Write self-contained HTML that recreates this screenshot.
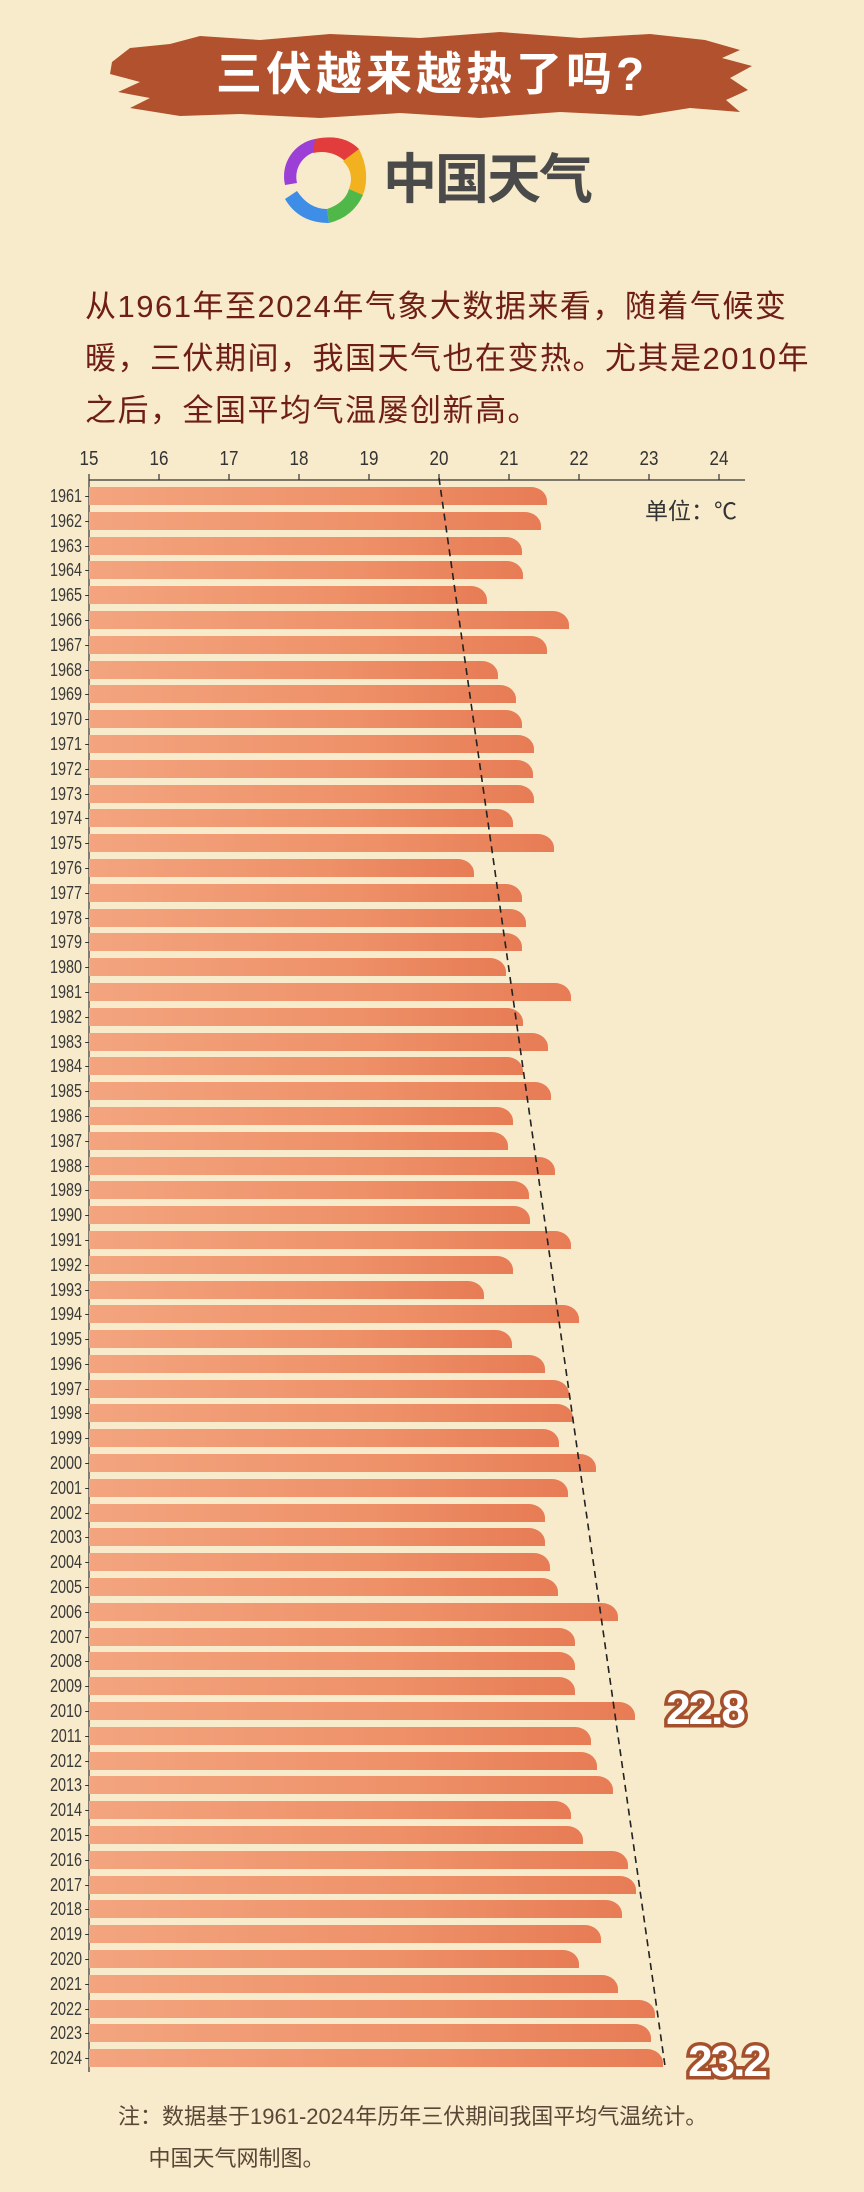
<!DOCTYPE html>
<html><head><meta charset="utf-8">
<style>
*{margin:0;padding:0;box-sizing:border-box}
body{width:864px;height:2192px;background:#f8ebcb;position:relative;overflow:hidden;font-family:"Liberation Sans","Noto Sans CJK SC",sans-serif}
.abs{position:absolute}
#title{left:0;width:864px;top:44px;text-align:center;color:#fff;font-size:46px;font-weight:bold;letter-spacing:4px;line-height:60px}
#logo{left:383px;top:148px;font-size:54px;color:#4a4a4a;font-weight:bold;letter-spacing:-2px;line-height:64px}
#para{left:85px;top:281px;color:#6e1e16;font-size:31px;line-height:52px;letter-spacing:1.5px;white-space:nowrap}
.tk{position:absolute;top:448px;font-size:20px;color:#333;transform:translateX(-50%) scaleX(.85)}
#rows{position:absolute;left:0;top:487px;width:864px}
.r{height:24.8px;position:relative}
.r span{position:absolute;right:782px;top:-1px;font-size:18px;line-height:20px;color:#3a3a3a;transform:scaleX(.8);transform-origin:right}
.r span:after{content:"";position:absolute;right:-9px;top:10px;width:5px;height:1px;background:#333}
.r i{position:absolute;left:89px;top:0;height:18px;border-top-right-radius:16px 14px;background:linear-gradient(90deg,#f3a57f,#ee9169 60%,#e77c55)}
#unit{left:645px;top:492px;font-size:23px;color:#333}
#note{left:118px;top:2096px;font-size:22px;color:#5a4636;line-height:42px}
</style></head><body>
<svg class="abs" style="left:0;top:0" width="864" height="2192">
<path d="M112 62 L130 48 L170 44 L200 36 L260 40 L330 34 L420 38 L500 32 L580 38 L650 34 L705 40 L740 50 L722 58 L752 66 L730 78 L748 90 L726 100 L740 112 L690 108 L640 116 L560 112 L480 118 L400 113 L320 118 L240 114 L180 116 L130 108 L150 98 L118 92 L140 82 L110 74 Z" fill="#b1512d"/>
<g transform="translate(323,179)">
<path d="M-8 -40 A38 38 0 0 0 -38 6 L-26 4 A26 26 0 0 1 -2 -28 Z" fill="#9b3fd6"/>
<path d="M-8 -40 Q20 -46 36 -30 L22 -18 Q8 -30 -10 -26 Z" fill="#e23c3c"/>
<path d="M36 -30 Q48 -6 40 16 L26 10 Q32 -6 20 -18 Z" fill="#f2b11e"/>
<path d="M40 16 Q30 38 6 44 L4 30 Q22 24 26 10 Z" fill="#4fb848"/>
<path d="M6 44 Q-24 44 -38 20 L-26 12 Q-14 30 4 30 Z" fill="#3e8ee8"/>
</g>
<line x1="89" y1="480" x2="745" y2="480" stroke="#333" stroke-width="1.2"/>
<line x1="89" y1="480" x2="89" y2="2072" stroke="#333" stroke-width="1.2"/>
<g stroke="#333" stroke-width="1.2">
<line x1="89" y1="474" x2="89" y2="480"/><line x1="159" y1="474" x2="159" y2="480"/><line x1="229" y1="474" x2="229" y2="480"/><line x1="299" y1="474" x2="299" y2="480"/><line x1="369" y1="474" x2="369" y2="480"/><line x1="439" y1="474" x2="439" y2="480"/><line x1="509" y1="474" x2="509" y2="480"/><line x1="579" y1="474" x2="579" y2="480"/><line x1="649" y1="474" x2="649" y2="480"/><line x1="719" y1="474" x2="719" y2="480"/>
</g>
</svg>
<div id="title" class="abs">三伏越来越热了吗?</div>
<div id="logo" class="abs">中国天气</div>
<div id="para" class="abs">从1961年至2024年气象大数据来看，随着气候变<br>暖，三伏期间，我国天气也在变热。尤其是2010年<br>之后，全国平均气温屡创新高。</div>
<div class="tk" style="left:89px">15</div><div class="tk" style="left:159px">16</div><div class="tk" style="left:229px">17</div><div class="tk" style="left:299px">18</div><div class="tk" style="left:369px">19</div><div class="tk" style="left:439px">20</div><div class="tk" style="left:509px">21</div><div class="tk" style="left:579px">22</div><div class="tk" style="left:649px">23</div><div class="tk" style="left:719px">24</div>
<div id="unit" class="abs">单位：℃</div>
<div id="rows">
<div class="r"><span>1961</span><i style="width:458px"></i></div>
<div class="r"><span>1962</span><i style="width:452px"></i></div>
<div class="r"><span>1963</span><i style="width:433px"></i></div>
<div class="r"><span>1964</span><i style="width:434px"></i></div>
<div class="r"><span>1965</span><i style="width:398px"></i></div>
<div class="r"><span>1966</span><i style="width:480px"></i></div>
<div class="r"><span>1967</span><i style="width:458px"></i></div>
<div class="r"><span>1968</span><i style="width:409px"></i></div>
<div class="r"><span>1969</span><i style="width:427px"></i></div>
<div class="r"><span>1970</span><i style="width:433px"></i></div>
<div class="r"><span>1971</span><i style="width:445px"></i></div>
<div class="r"><span>1972</span><i style="width:444px"></i></div>
<div class="r"><span>1973</span><i style="width:445px"></i></div>
<div class="r"><span>1974</span><i style="width:424px"></i></div>
<div class="r"><span>1975</span><i style="width:465px"></i></div>
<div class="r"><span>1976</span><i style="width:385px"></i></div>
<div class="r"><span>1977</span><i style="width:433px"></i></div>
<div class="r"><span>1978</span><i style="width:437px"></i></div>
<div class="r"><span>1979</span><i style="width:433px"></i></div>
<div class="r"><span>1980</span><i style="width:417px"></i></div>
<div class="r"><span>1981</span><i style="width:482px"></i></div>
<div class="r"><span>1982</span><i style="width:434px"></i></div>
<div class="r"><span>1983</span><i style="width:459px"></i></div>
<div class="r"><span>1984</span><i style="width:434px"></i></div>
<div class="r"><span>1985</span><i style="width:462px"></i></div>
<div class="r"><span>1986</span><i style="width:424px"></i></div>
<div class="r"><span>1987</span><i style="width:419px"></i></div>
<div class="r"><span>1988</span><i style="width:466px"></i></div>
<div class="r"><span>1989</span><i style="width:440px"></i></div>
<div class="r"><span>1990</span><i style="width:441px"></i></div>
<div class="r"><span>1991</span><i style="width:482px"></i></div>
<div class="r"><span>1992</span><i style="width:424px"></i></div>
<div class="r"><span>1993</span><i style="width:395px"></i></div>
<div class="r"><span>1994</span><i style="width:490px"></i></div>
<div class="r"><span>1995</span><i style="width:423px"></i></div>
<div class="r"><span>1996</span><i style="width:456px"></i></div>
<div class="r"><span>1997</span><i style="width:480px"></i></div>
<div class="r"><span>1998</span><i style="width:484px"></i></div>
<div class="r"><span>1999</span><i style="width:470px"></i></div>
<div class="r"><span>2000</span><i style="width:507px"></i></div>
<div class="r"><span>2001</span><i style="width:479px"></i></div>
<div class="r"><span>2002</span><i style="width:456px"></i></div>
<div class="r"><span>2003</span><i style="width:456px"></i></div>
<div class="r"><span>2004</span><i style="width:461px"></i></div>
<div class="r"><span>2005</span><i style="width:469px"></i></div>
<div class="r"><span>2006</span><i style="width:529px"></i></div>
<div class="r"><span>2007</span><i style="width:486px"></i></div>
<div class="r"><span>2008</span><i style="width:486px"></i></div>
<div class="r"><span>2009</span><i style="width:486px"></i></div>
<div class="r"><span>2010</span><i style="width:546px"></i></div>
<div class="r"><span>2011</span><i style="width:502px"></i></div>
<div class="r"><span>2012</span><i style="width:508px"></i></div>
<div class="r"><span>2013</span><i style="width:524px"></i></div>
<div class="r"><span>2014</span><i style="width:482px"></i></div>
<div class="r"><span>2015</span><i style="width:494px"></i></div>
<div class="r"><span>2016</span><i style="width:539px"></i></div>
<div class="r"><span>2017</span><i style="width:547px"></i></div>
<div class="r"><span>2018</span><i style="width:533px"></i></div>
<div class="r"><span>2019</span><i style="width:512px"></i></div>
<div class="r"><span>2020</span><i style="width:490px"></i></div>
<div class="r"><span>2021</span><i style="width:529px"></i></div>
<div class="r"><span>2022</span><i style="width:566px"></i></div>
<div class="r"><span>2023</span><i style="width:562px"></i></div>
<div class="r"><span>2024</span><i style="width:574px"></i></div>
</div>
<svg class="abs" style="left:0;top:0" width="864" height="2192">
<line x1="439" y1="478" x2="665" y2="2066" stroke="#222" stroke-width="1.6" stroke-dasharray="7 5"/>
<text x="705" y="1724" text-anchor="middle" font-family="Liberation Sans, sans-serif" font-weight="bold" font-size="44" fill="#fff" stroke="#a5502d" stroke-width="7" paint-order="stroke" letter-spacing="-2">22.8</text>
<text x="727" y="2076" text-anchor="middle" font-family="Liberation Sans, sans-serif" font-weight="bold" font-size="44" fill="#fff" stroke="#a5502d" stroke-width="7" paint-order="stroke" letter-spacing="-2">23.2</text>
</svg>
<div id="note" class="abs">注：数据基于1961-2024年历年三伏期间我国平均气温统计。<br>&nbsp;&nbsp;&nbsp;&nbsp;&nbsp;中国天气网制图。</div>
</body></html>
